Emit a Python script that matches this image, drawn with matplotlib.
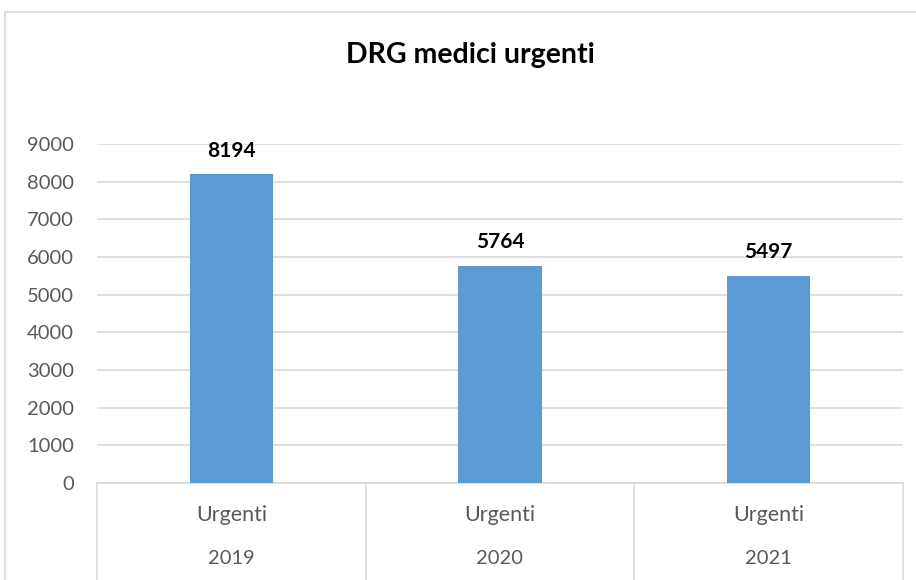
import matplotlib
matplotlib.use("Agg")
import matplotlib.pyplot as plt
from matplotlib.patches import Rectangle
from matplotlib.lines import Line2D

years = ["2019", "2020", "2021"]
subcats = ["Urgenti", "Urgenti", "Urgenti"]
values = [8194, 5764, 5497]
yticks = [0, 1000, 2000, 3000, 4000, 5000, 6000, 7000, 8000, 9000]
title = "DRG medici urgenti"

plt.rcParams['font.family'] = ['Lato', 'DejaVu Sans']

W, H = 916, 580
fig = plt.figure(figsize=(W / 100, H / 100), dpi=100)
fig.patch.set_facecolor('white')

# chart border
fig.patches.append(Rectangle((5 / W, -0.05), 1.0, 1 - 12 / H + 0.05,
                             transform=fig.transFigure, fill=False,
                             edgecolor='#D9D9D9', lw=1.2))

left, right, top, bottom = 97, 903, 144, 483
ax = fig.add_axes([left / W, 1 - bottom / H, (right - left) / W, (bottom - top) / H])
x = list(range(len(values)))
ax.bar(x, values, width=0.31, color='#5B9BD5', zorder=3)
ax.set_xlim(-0.5, len(values) - 0.5)
ax.set_ylim(0, 9000)
ax.set_yticks(yticks)
ax.set_yticklabels([str(t) for t in yticks], fontsize=14.5, color='#595959')
ax.tick_params(axis='y', length=0, pad=16.5)
ax.tick_params(axis='x', length=0)
ax.set_xticks([])
ax.yaxis.grid(True, color='#D9D9D9', lw=1.2, zorder=0)
for s in ['top', 'right', 'left']:
    ax.spines[s].set_visible(False)
ax.spines['bottom'].set_color('#D9D9D9')
ax.spines['bottom'].set_linewidth(1.2)

for xi, v in zip(x, values):
    ax.annotate(str(v), (xi, v), xytext=(0, 17), textcoords='offset points',
                ha='center', va='center', fontsize=15, fontweight='bold', color='black')

tr = ax.get_xaxis_transform()
for xi, sc, yr in zip(x, subcats, years):
    ax.text(xi, -32 / 339, sc, transform=tr, ha='center', va='center', fontsize=15.5, color='#595959')
    ax.text(xi, -75 / 339, yr, transform=tr, ha='center', va='center', fontsize=14.5, color='#595959')
for b in [-0.5, 0.5, 1.5, 2.5]:
    ax.add_line(Line2D([b, b], [0, -0.3], transform=tr, color='#D9D9D9', lw=1.2, clip_on=False))

fig.text(470 / W, 1 - 55 / H, title, ha='center', va='center', fontsize=20.5, fontweight='bold')

fig.savefig('out.png', dpi=100, facecolor='white')
